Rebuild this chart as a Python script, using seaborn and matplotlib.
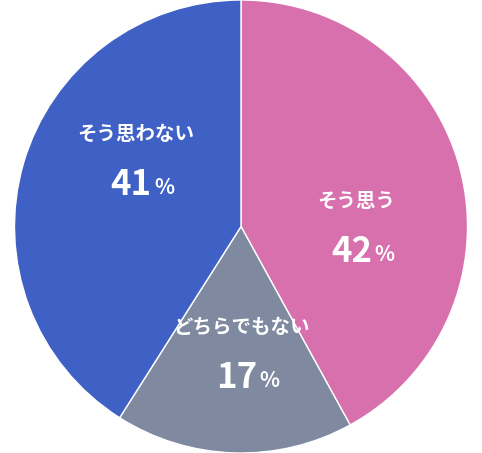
import numpy as np
import matplotlib
matplotlib.use("Agg")
import matplotlib.pyplot as plt
import seaborn as sns

sns.set_theme(style="white")
plt.rcParams['font.family'] = ['Noto Sans CJK JP', 'DejaVu Sans']

labels = ['そう思う', 'どちらでもない', 'そう思わない']
values = [42, 17, 41]
colors = ['#d870ad', '#7f8aa0', '#3f60c4']
# label anchor as (radius fraction, angle in degrees)
label_anchor = [(0.51, 0), (0.555, -90), (0.55, 147.5)]

fig = plt.figure(figsize=(4.82, 4.53), dpi=100)
ax = fig.add_axes([0, 0, 1, 1])
ax.pie(values, colors=colors, startangle=90, counterclock=False, radius=1.0)
ax.set_aspect('equal')
ax.set_xlim(-1.06, 1.06)
ax.set_ylim(-1.0, 1.0)
ax.axis('off')

for lab, v, (r, a) in zip(labels, values, label_anchor):
    x, y = r * np.cos(np.deg2rad(a)), r * np.sin(np.deg2rad(a))
    ax.text(x, y + 0.11, lab, color='white', fontsize=14, fontweight='bold',
            ha='center', va='center')
    ax.text(x + 0.07, y - 0.11, str(v), color='white', fontsize=25, fontweight='bold',
            ha='right', va='center')
    ax.text(x + 0.08, y - 0.125, '%', color='white', fontsize=15, fontweight='bold',
            ha='left', va='center')

fig.savefig('out.png', dpi=100)
